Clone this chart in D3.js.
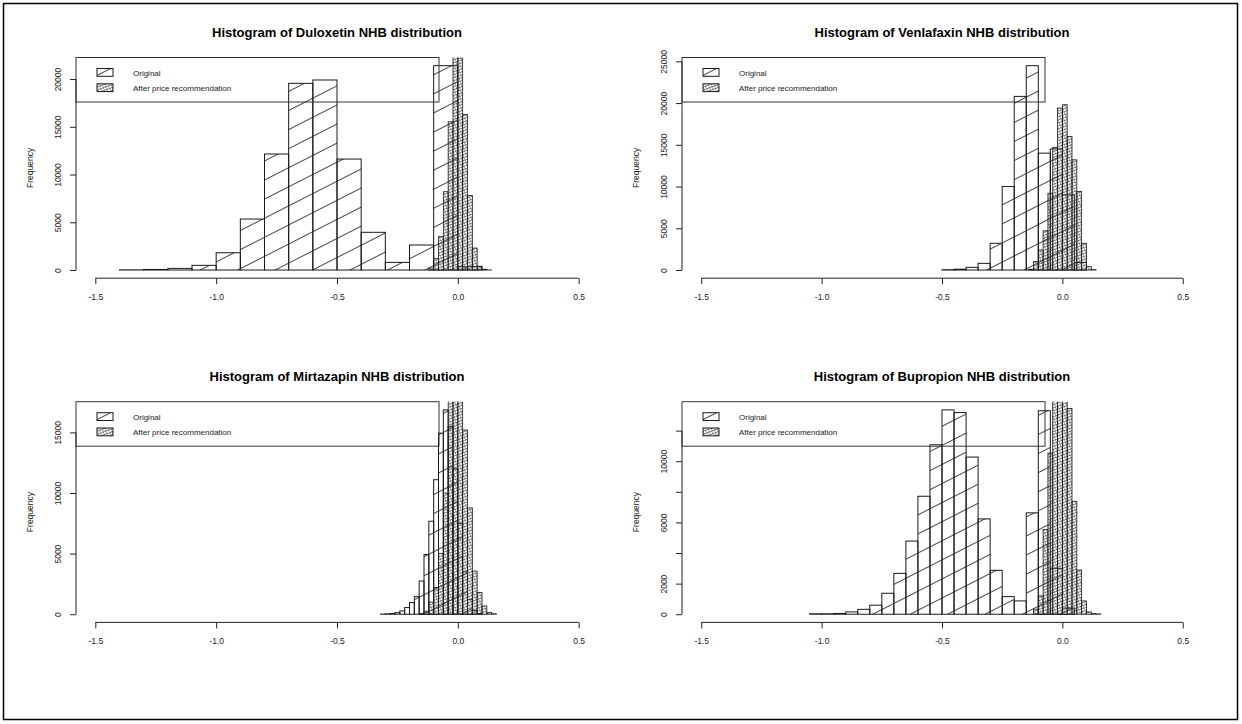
<!DOCTYPE html>
<html>
<head>
<meta charset="utf-8">
<script src="https://cdn.jsdelivr.net/npm/d3@7"></script>
<style>
  body { margin: 0; background: #fff; }
  svg { display: block; font-family: "Liberation Sans", Arial, sans-serif; }
</style>
</head>
<body>
<svg id="chart" width="1242" height="724"></svg>
<script>
// ---- data ----
const xLimits = [-1.5, 0.5];
const xTicks = [-1.5, -1.0, -0.5, 0.0, 0.5];
const legendLabels = ["Original", "After price recommendation"];

// Duloxetin
const dulOrigBreaks = [-1.4, -1.3, -1.2, -1.1, -1.0, -0.9, -0.8, -0.7, -0.6, -0.5, -0.4, -0.3, -0.2, -0.1, 0.0, 0.1];
const dulOrigCounts = [20, 60, 170, 490, 1810, 5340, 12150, 19550, 19900, 11620, 3950, 800, 2620, 21400, 350];
const dulAfterBreaks = [-0.12, -0.1, -0.08, -0.06, -0.04, -0.02, 0, 0.02, 0.04, 0.06, 0.08, 0.1, 0.12, 0.14];
const dulAfterCounts = [200, 1220, 3490, 8200, 15530, 22800, 22200, 16300, 7800, 2300, 400, 80, 10];
const dulYTicks = [0, 5000, 10000, 15000, 20000];

// Venlafaxin
const venOrigBreaks = [-0.5, -0.45, -0.4, -0.35, -0.3, -0.25, -0.2, -0.15, -0.1, -0.05, 0, 0.05, 0.1];
const venOrigCounts = [40, 100, 320, 800, 3200, 10000, 20800, 24480, 14000, 14500, 9000, 900];
const venAfterBreaks = [-0.14, -0.12, -0.1, -0.08, -0.06, -0.04, -0.02, 0, 0.02, 0.04, 0.06, 0.08, 0.1, 0.12, 0.14];
const venAfterCounts = [100, 1000, 2400, 4700, 9200, 14700, 19400, 19800, 16000, 13200, 9400, 3200, 400, 50];
const venYTicks = [0, 5000, 10000, 15000, 20000, 25000];

// Mirtazapin
const mirOrigBreaks = [-0.32, -0.3, -0.28, -0.26, -0.24, -0.22, -0.2, -0.18, -0.16, -0.14, -0.12, -0.1,
  -0.08, -0.06, -0.04, -0.02, 0, 0.02, 0.04, 0.06, 0.08, 0.1];
const mirOrigCounts = [10, 30, 60, 130, 270, 550, 960, 1450, 2740, 4930, 7670, 11100,
  14940, 16860, 15500, 12000, 7500, 3500, 1200, 300, 60];
const mirAfterBreaks = [-0.16, -0.14, -0.12, -0.1, -0.08, -0.06, -0.04, -0.02, 0, 0.02, 0.04, 0.06, 0.08, 0.1, 0.12, 0.14, 0.16];
const mirAfterCounts = [50, 250, 1000, 2200, 5000, 10000, 17800, 18500, 17600, 15200, 8770, 3560, 1800, 680, 150, 40];
const mirYTicks = [0, 5000, 10000, 15000];

// Bupropion
const bupOrigBreaks = [-1.05, -1.0, -0.95, -0.9, -0.85, -0.8, -0.75, -0.7, -0.65, -0.6, -0.55, -0.5,
  -0.45, -0.4, -0.35, -0.3, -0.25, -0.2, -0.15, -0.1, -0.05, 0, 0.05];
const bupOrigCounts = [30, 30, 50, 150, 320, 590, 1370, 2670, 4780, 7710, 11075, 13355,
  13180, 10270, 6230, 2870, 1150, 870, 6625, 13300, 3000, 400];
const bupAfterBreaks = [-0.12, -0.1, -0.08, -0.06, -0.04, -0.02, 0, 0.02, 0.04, 0.06, 0.08, 0.1, 0.12, 0.14, 0.16];
const bupAfterCounts = [330, 1200, 5540, 10530, 18000, 20000, 18000, 13450, 7380, 2890, 870, 150, 40, 20];
const bupYTicks = [0, 2000, 4000, 6000, 8000, 10000, 12000];
const bupYLabels = [0, 2000, 6000, 10000];

// ---- layout ----
const panels = [
  { title: "Histogram of Duloxetin NHB distribution", ob: dulOrigBreaks, oc: dulOrigCounts,
    ab: dulAfterBreaks, ac: dulAfterCounts, yTicks: dulYTicks, yLabels: dulYTicks,
    left: 76, right: 598, top: 57.5, bottom: 278.2 },
  { title: "Histogram of Venlafaxin NHB distribution", ob: venOrigBreaks, oc: venOrigCounts,
    ab: venAfterBreaks, ac: venAfterCounts, yTicks: venYTicks, yLabels: venYTicks,
    left: 682, right: 1202, top: 57.5, bottom: 278.2 },
  { title: "Histogram of Mirtazapin NHB distribution", ob: mirOrigBreaks, oc: mirOrigCounts,
    ab: mirAfterBreaks, ac: mirAfterCounts, yTicks: mirYTicks, yLabels: mirYTicks,
    left: 76, right: 598, top: 401.7, bottom: 622.4 },
  { title: "Histogram of Bupropion NHB distribution", ob: bupOrigBreaks, oc: bupOrigCounts,
    ab: bupAfterBreaks, ac: bupAfterCounts, yTicks: bupYTicks, yLabels: bupYLabels,
    left: 682, right: 1202, top: 401.7, bottom: 622.4 }
];

const svg = d3.select("#chart");
const defs = svg.append("defs");

// single-direction shading, in global user space so lines run on across bars (as in R)
const po = defs.append("pattern")
  .attr("id", "hatchOrig")
  .attr("patternUnits", "userSpaceOnUse")
  .attr("width", 10).attr("height", 17)
  .attr("patternTransform", "rotate(-27)");
po.append("line")
  .attr("x1", 0).attr("x2", 10).attr("y1", 8.5).attr("y2", 8.5)
  .attr("stroke", "#333").attr("stroke-width", 0.9);

// dense cross-hatch for the second histogram
const pa = defs.append("pattern")
  .attr("id", "hatchAfter")
  .attr("patternUnits", "userSpaceOnUse")
  .attr("width", 2.8).attr("height", 2.8)
  .attr("patternTransform", "rotate(-20)");
pa.append("line")
  .attr("x1", 0).attr("x2", 2.8).attr("y1", 1.4).attr("y2", 1.4)
  .attr("stroke", "#333").attr("stroke-width", 0.6);
pa.append("line")
  .attr("x1", 1.4).attr("x2", 1.4).attr("y1", 0).attr("y2", 2.8)
  .attr("stroke", "#555").attr("stroke-width", 0.45);

// outer frame
svg.append("rect")
  .attr("x", 3.5).attr("y", 3.5)
  .attr("width", 1234).attr("height", 716)
  .attr("fill", "none")
  .attr("stroke", "#000")
  .attr("stroke-width", 1.5);

panels.forEach((p, i) => {
  const g = svg.append("g");
  const pad = (xLimits[1] - xLimits[0]) * 0.04;
  const x = d3.scaleLinear()
    .domain([xLimits[0] - pad, xLimits[1] + pad])
    .range([p.left, p.right]);
  const ymax = d3.max(p.oc);
  const y = d3.scaleLinear()
    .domain([-0.04 * ymax, 1.04 * ymax])
    .range([p.bottom, p.top]);

  defs.append("clipPath").attr("id", "clip" + i)
    .append("rect")
    .attr("x", p.left).attr("y", p.top)
    .attr("width", p.right - p.left).attr("height", p.bottom - p.top);

  const bars = g.append("g").attr("clip-path", `url(#clip${i})`);

  function drawHist(breaks, counts, fill, sw) {
    const bins = d3.pairs(breaks).map(([a, b], k) => ({ x0: a, x1: b, n: counts[k] }));
    bars.append("g")
      .selectAll("rect")
      .data(bins)
      .join("rect")
        .attr("x", d => x(d.x0))
        .attr("y", d => y(d.n))
        .attr("width", d => x(d.x1) - x(d.x0))
        .attr("height", d => y(0) - y(d.n))
        .attr("fill", fill)
        .attr("stroke", "#1a1a1a")
        .attr("stroke-width", sw);
  }
  drawHist(p.ob, p.oc, "url(#hatchOrig)", 1);
  drawHist(p.ab, p.ac, "url(#hatchAfter)", 0.8);

  // x axis
  const xa = g.append("g")
    .attr("transform", `translate(0,${p.bottom})`)
    .call(d3.axisBottom(x).tickValues(xTicks).tickSize(6).tickSizeOuter(0)
      .tickFormat(d => d.toFixed(1)));
  xa.select(".domain").attr("d", `M${x(xTicks[0])},0H${x(xTicks[xTicks.length - 1])}`);
  xa.selectAll("text").attr("y", 22).attr("dy", 0);

  // y axis
  const ya = g.append("g")
    .attr("transform", `translate(${p.left},0)`)
    .call(d3.axisLeft(y).tickValues(p.yTicks).tickSize(6).tickSizeOuter(0)
      .tickFormat(d => p.yLabels.includes(d) ? String(d) : ""));
  ya.select(".domain").attr("d", `M0,${y(p.yTicks[0])}V${y(p.yTicks[p.yTicks.length - 1])}`);
  ya.selectAll("text")
    .attr("x", 0).attr("y", -15).attr("dy", 0)
    .attr("transform", "rotate(-90)")
    .style("text-anchor", "middle");

  [xa, ya].forEach(a => {
    a.attr("font-family", null).attr("font-size", null);
    a.selectAll("path, line").attr("stroke", "#222");
    a.selectAll("text").attr("fill", "#222").style("font-size", "8.5px");
  });

  // axis title
  g.append("text")
    .attr("transform", `translate(${p.left - 43},${(p.top + p.bottom) / 2}) rotate(-90)`)
    .style("text-anchor", "middle")
    .style("font-size", "8.5px")
    .attr("fill", "#222")
    .text("Frequency");

  // main title
  g.append("text")
    .attr("x", (p.left + p.right) / 2)
    .attr("y", p.top - 20.8)
    .style("text-anchor", "middle")
    .style("font-size", "13px")
    .style("font-weight", "bold")
    .text(p.title);

  // legend (transparent, top-left of plot region)
  const lg = g.append("g").attr("transform", `translate(${p.left},${p.top})`);
  lg.append("rect")
    .attr("width", 363).attr("height", 44.5)
    .attr("fill", "none")
    .attr("stroke", "#333");
  const lgFills = ["url(#hatchOrig)", "url(#hatchAfter)"];
  legendLabels.forEach((lab, k) => {
    lg.append("rect")
      .attr("x", 21).attr("y", 11 + k * 15.3)
      .attr("width", 16).attr("height", 7.8)
      .attr("fill", lgFills[k])
      .attr("stroke", "#1a1a1a");
    lg.append("text")
      .attr("x", 57).attr("y", 18.4 + k * 15.3)
      .style("font-size", "8px")
      .attr("fill", "#222")
      .text(lab);
  });
});
</script>
</body>
</html>
